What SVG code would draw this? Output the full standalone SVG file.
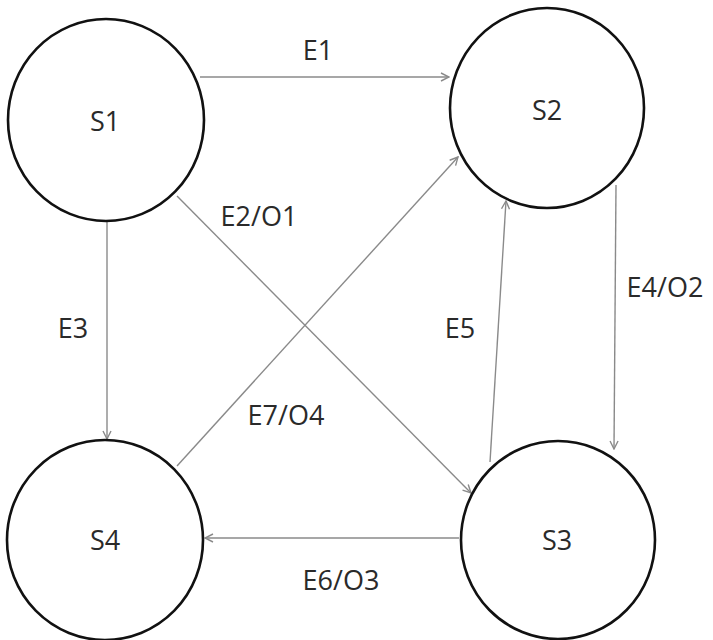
<svg xmlns="http://www.w3.org/2000/svg" width="713" height="640" viewBox="0 0 713 640">
<style>
.st{fill:#fff;stroke:#111;stroke-width:2.6}
.lb{font-family:"Open Sans","Liberation Sans",sans-serif;font-size:27px;fill:#2a2a2a;text-anchor:middle}
.cn{stroke:#8a8a8a;stroke-width:1.4;fill:none;marker-end:url(#ah)}
</style>
<defs>
<marker id="ah" viewBox="0 0 10 10" refX="9" refY="5" markerWidth="10" markerHeight="10" markerUnits="userSpaceOnUse" orient="auto">
<path d="M1,1 L9,5 L1,9" fill="none" stroke="#8a8a8a" stroke-width="1.4"/>
</marker>
</defs>
<rect width="713" height="640" fill="#fff"/>
<g id="connectors">
<line class="cn" x1="200" y1="77" x2="449" y2="77"/>
<line class="cn" x1="177" y1="196" x2="471" y2="493"/>
<line class="cn" x1="177" y1="466" x2="458" y2="157"/>
<line class="cn" x1="107" y1="222" x2="107" y2="439"/>
<line class="cn" x1="490" y1="462" x2="506" y2="201"/>
<line class="cn" x1="616" y1="185" x2="614" y2="449"/>
<line class="cn" x1="459" y1="538" x2="205" y2="538"/>
<text class="lb" x="318" y="60">E1</text>
<text class="lb" x="259" y="226">E2/O1</text>
<text class="lb" x="73" y="338">E3</text>
<text class="lb" x="460" y="338">E5</text>
<text class="lb" x="665" y="297">E4/O2</text>
<text class="lb" x="286" y="425">E7/O4</text>
<text class="lb" x="341" y="590">E6/O3</text>
</g>
<g id="S1"><ellipse class="st" cx="106" cy="120" rx="98" ry="101"/><text class="lb" x="105" y="131">S1</text></g>
<g id="S2"><ellipse class="st" cx="547" cy="108" rx="97" ry="100"/><text class="lb" x="547" y="120">S2</text></g>
<g id="S4"><ellipse class="st" cx="105" cy="540" rx="98" ry="100"/><text class="lb" x="105" y="550">S4</text></g>
<g id="S3"><ellipse class="st" cx="558" cy="540" rx="97" ry="99"/><text class="lb" x="557" y="550">S3</text></g>
</svg>
